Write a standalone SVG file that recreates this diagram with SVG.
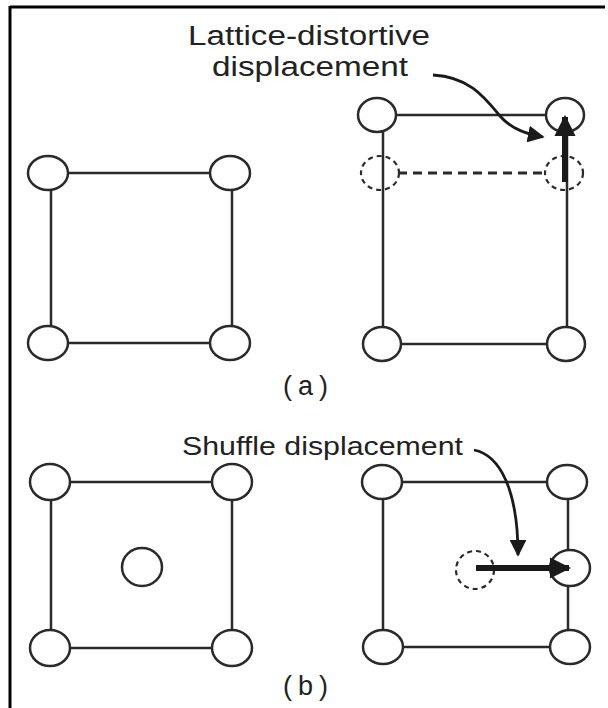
<svg xmlns="http://www.w3.org/2000/svg" width="608" height="708" viewBox="0 0 608 708">
<defs>
<style>
.atom{fill:#fff;stroke:#2a2a2a;stroke-width:2.5}
.ghost{fill:none;stroke:#2a2a2a;stroke-width:2.2;stroke-dasharray:5 4}
.bond{stroke:#2a2a2a;stroke-width:2.5;fill:none}
.dbond{stroke:#2a2a2a;stroke-width:3;fill:none;stroke-dasharray:9 6}
.lbl{font-family:"Liberation Sans",Arial,sans-serif;fill:#222}
.tag{font-family:"Liberation Sans",Arial,sans-serif;fill:#222;font-size:27px;letter-spacing:6px}
.curve{stroke:#1a1a1a;stroke-width:2.8;fill:none}
.disp{stroke:#1a1a1a;stroke-width:6;fill:none}
</style>
<marker id="head" viewBox="0 0 10 10" refX="9" refY="5" markerWidth="6" markerHeight="6" markerUnits="strokeWidth" orient="auto">
<path d="M0,0 L10,5 L0,10 z" fill="#1a1a1a"/>
</marker>
<marker id="bighead" viewBox="0 0 10 10" refX="9" refY="5" markerWidth="3.6" markerHeight="3.6" markerUnits="strokeWidth" orient="auto">
<path d="M0,0 L10,5 L0,10 z" fill="#1a1a1a"/>
</marker>
</defs>
<rect width="608" height="708" fill="#fff"/>
<g id="frame">
<line x1="10" y1="7" x2="605" y2="7" stroke="#000" stroke-width="3"/>
<line x1="10" y1="6" x2="10" y2="708" stroke="#000" stroke-width="3"/>
</g>

<g id="connectors">
<line class="bond" x1="68" y1="173" x2="210" y2="173"/>
<line class="bond" x1="68" y1="343" x2="210" y2="343"/>
<line class="bond" x1="51" y1="189" x2="51" y2="327"/>
<line class="bond" x1="232" y1="189" x2="232" y2="327"/>
<line class="bond" x1="395" y1="115" x2="547" y2="115"/>
<line class="bond" x1="383" y1="132" x2="383" y2="327"/>
<line class="bond" x1="567" y1="132" x2="567" y2="327"/>
<line class="bond" x1="400" y1="344" x2="548" y2="344"/>
<line class="dbond" x1="398" y1="173" x2="544" y2="173"/>
<line class="bond" x1="70" y1="482" x2="212" y2="482"/>
<line class="bond" x1="70" y1="648" x2="212" y2="648"/>
<line class="bond" x1="51" y1="499" x2="51" y2="631"/>
<line class="bond" x1="232" y1="499" x2="232" y2="631"/>
<line class="bond" x1="401" y1="482" x2="549" y2="482"/>
<line class="bond" x1="402" y1="647" x2="551" y2="647"/>
<line class="bond" x1="383" y1="499" x2="383" y2="630"/>
<line class="bond" x1="568" y1="498" x2="568" y2="630"/>
</g>

<g id="a-left">
<ellipse class="atom" cx="48" cy="173" rx="20" ry="17"/>
<ellipse class="atom" cx="230" cy="173" rx="20" ry="17"/>
<ellipse class="atom" cx="48" cy="343" rx="20" ry="17"/>
<ellipse class="atom" cx="230" cy="343" rx="20" ry="17"/>
</g>

<g id="a-right">
<ellipse class="atom" cx="377" cy="115" rx="19" ry="17"/>
<ellipse class="atom" cx="565" cy="115" rx="19" ry="17"/>
<ellipse class="ghost" cx="380" cy="173" rx="19" ry="17"/>
<ellipse class="ghost" cx="564" cy="173" rx="19" ry="17"/>
<ellipse class="atom" cx="382" cy="344" rx="19" ry="17"/>
<ellipse class="atom" cx="566" cy="344" rx="19" ry="17"/>
</g>

<g id="b-left">
<ellipse class="atom" cx="50" cy="482" rx="20" ry="18"/>
<ellipse class="atom" cx="232" cy="482" rx="20" ry="18"/>
<ellipse class="atom" cx="142" cy="567" rx="20" ry="19"/>
<ellipse class="atom" cx="50" cy="648" rx="20" ry="18"/>
<ellipse class="atom" cx="232" cy="648" rx="20" ry="18"/>
</g>

<g id="b-right">
<ellipse class="atom" cx="382" cy="482" rx="20" ry="17"/>
<ellipse class="atom" cx="567" cy="482" rx="20" ry="17"/>
<ellipse class="atom" cx="570" cy="568" rx="20" ry="18"/>
<ellipse class="ghost" cx="475" cy="570" rx="19" ry="19"/>
<ellipse class="atom" cx="383" cy="647" rx="20" ry="17"/>
<ellipse class="atom" cx="570" cy="647" rx="20" ry="17"/>
</g>

<g id="arrows">
<line class="disp" x1="565" y1="182" x2="565" y2="117" marker-end="url(#bighead)"/>
<path class="curve" d="M433,75 C470,77 485,98 500,116 C512,130 528,134 543,137" marker-end="url(#head)"/>
<line class="disp" x1="476" y1="568" x2="569" y2="568" marker-end="url(#bighead)"/>
<path class="curve" d="M474,450 C500,455 518,490 518,555" marker-end="url(#head)"/>
</g>

<g id="labels">
<text class="lbl" x="188" y="45" font-size="27" textLength="242" lengthAdjust="spacingAndGlyphs">Lattice-distortive</text>
<text class="lbl" x="212" y="76" font-size="27" textLength="196" lengthAdjust="spacingAndGlyphs">displacement</text>
<text class="tag" x="283" y="395">(a)</text>
<text class="lbl" x="182" y="455" font-size="26" textLength="281" lengthAdjust="spacingAndGlyphs">Shuffle displacement</text>
<text class="tag" x="283" y="695">(b)</text>
</g>
</svg>
